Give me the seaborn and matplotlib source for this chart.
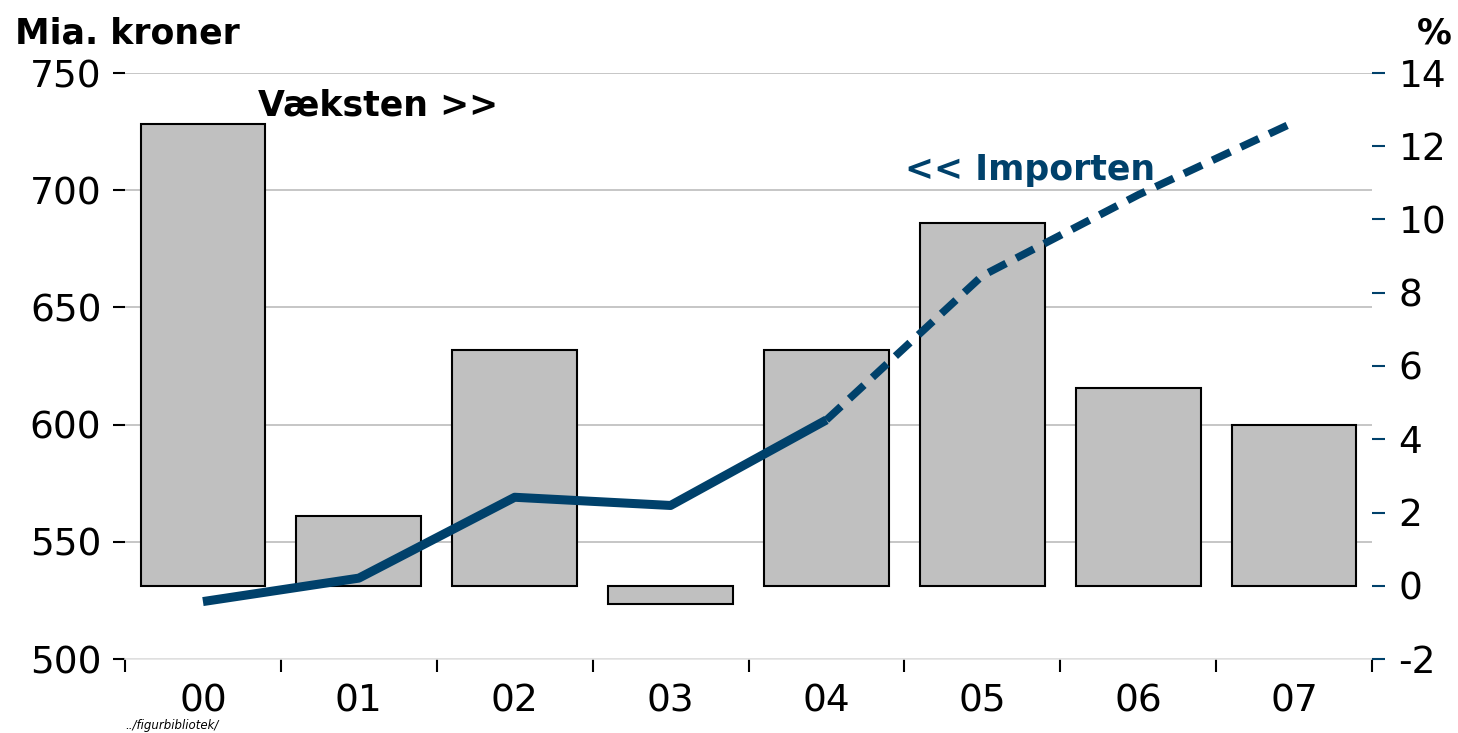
import matplotlib
matplotlib.use('Agg')
import matplotlib.pyplot as plt
import seaborn as sns
import numpy as np

# ---- data ----
years = ['00', '01', '02', '03', '04', '05', '06', '07']
growth_pct = [12.6, 1.9, 6.45, -0.5, 6.45, 9.9, 5.4, 4.4]        # Væksten (right axis, %)
imports_bn = [524.5, 534.5, 569.0, 565.5, 602.0, 663.5, 698.0, 729.0]  # Importen (left axis, mia. kr.)
last_actual = '04'   # solid up to here, dashed afterwards
left_ticks = [500, 550, 600, 650, 700, 750]
right_ticks = [-2, 0, 2, 4, 6, 8, 10, 12, 14]

BLUE = '#00416b'
BAR = '#c0c0c0'
GRID = '#c6c6c6'

sns.set_style('white')
plt.rcParams['font.family'] = ['DejaVu Sans']
plt.rcParams['axes.unicode_minus'] = False
plt.rcParams['text.color'] = 'black'
plt.rcParams['xtick.labelcolor'] = 'black'
plt.rcParams['ytick.labelcolor'] = 'black'

W, H = 1458, 733
fig = plt.figure(figsize=(W / 100, H / 100), dpi=100)
ax = fig.add_axes([125 / W, 1 - 659 / H, (1372 - 125) / W, (659 - 73) / H])
ax2 = ax.twinx()   # bars, % axis
ax3 = ax.twinx()   # line, kroner axis (on top)

pos = np.arange(len(years))
k = years.index(last_actual)

# bars
sns.barplot(x=years, y=growth_pct, ax=ax2, color=BAR, saturation=1,
            edgecolor='black', linewidth=1.5, width=0.8)

# line
sns.lineplot(x=pos[:k + 1], y=imports_bn[:k + 1], ax=ax3, color=BLUE,
             linewidth=6.5, solid_capstyle='butt')
sns.lineplot(x=pos[k:], y=imports_bn[k:], ax=ax3, color=BLUE,
             linewidth=5.5, linestyle=(0, (2.6, 1.5)), dash_capstyle='butt')

# left axis (kroner)
ax.set_ylim(left_ticks[0], left_ticks[-1])
ax.set_yticks(left_ticks)
ax.tick_params(axis='y', which='major', left=True, length=9, width=1.5,
               color='black', labelcolor='black', labelsize=27, pad=8)
ax.grid(axis='y', color=GRID, linewidth=1.4)
ax.grid(axis='x', visible=False)
ax.set_axisbelow(True)

# right axis (%)
ax2.set_ylim(right_ticks[0], right_ticks[-1])
ax2.set_yticks(right_ticks)
ax2.tick_params(axis='y', right=True, length=9, width=1.5, color=BLUE,
                labelcolor='black', labelsize=27, pad=10)
ax2.set_ylabel('')
ax2.set_xlabel('')

# line axis
ax3.set_ylim(left_ticks[0], left_ticks[-1])
ax3.set_yticks([])
ax3.set_ylabel('')

# x axis
ax.set_xlim(-0.5, len(years) - 0.5)
ax.set_xticks(pos)
ax.set_xticklabels(years)
ax.set_xticks(np.arange(len(years) + 1) - 0.5, minor=True)
ax.tick_params(axis='x', which='major', length=0, labelsize=27, pad=18,
               labelcolor='black')
ax.tick_params(axis='x', which='minor', bottom=True, length=9, width=1.5,
               color='black')
ax.set_xlabel('')
ax.set_ylabel('')

for a in (ax, ax2, ax3):
    for s in a.spines.values():
        s.set_visible(False)
ax.spines['bottom'].set_visible(True)
ax.spines['bottom'].set_color('#e4e4e4')
ax.spines['bottom'].set_linewidth(1.2)

# texts
fig.text(15 / W, 1 - 44 / H, 'Mia. kroner', fontsize=25, fontweight='bold',
         color='black', va='baseline', ha='left')
fig.text(1452 / W, 1 - 44 / H, '%', fontsize=25, fontweight='bold',
         color='black', va='baseline', ha='right')
fig.text(258 / W, 1 - 116 / H, 'Væksten >>', fontsize=25, fontweight='bold',
         color='black', va='baseline', ha='left')
fig.text(905 / W, 1 - 180 / H, '<< Importen', fontsize=25, fontweight='bold',
         color=BLUE, va='baseline', ha='left')
fig.text(125 / W, 1 - 729 / H, '../figurbibliotek/', fontsize=8.5,
         style='italic', color='black', va='baseline', ha='left')

fig.savefig('out.png', dpi=100)
